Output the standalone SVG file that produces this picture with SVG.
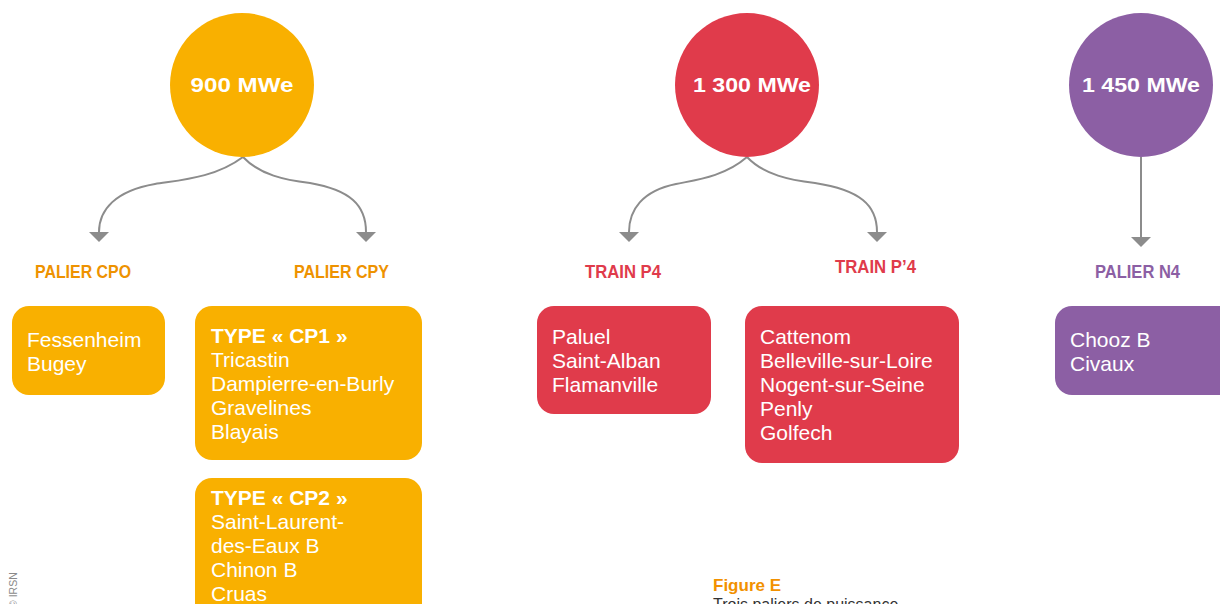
<svg xmlns="http://www.w3.org/2000/svg" width="1220" height="604" viewBox="0 0 1220 604">
  <style>
    .bg { fill: #ffffff; }
    .orange { fill: #F9B000; }
    .red { fill: #E03B4B; }
    .purple { fill: #8C5FA4; }
    .title { font-family: "Liberation Sans", Arial, sans-serif; font-weight: bold; font-size: 20px; fill: #ffffff; text-anchor: middle; }
    .label { font-family: "Liberation Sans", Arial, sans-serif; font-weight: bold; font-size: 19px; }
    .lab-o { fill: #EE9200; }
    .lab-r { fill: #E03B4B; }
    .lab-p { fill: #8C5FA4; }
    .item { font-family: "Liberation Sans", Arial, sans-serif; font-size: 21px; fill: #ffffff; }
    .item .b { font-weight: bold; }
    .conn { fill: none; stroke: #8C8C8C; stroke-width: 2; }
    .caption { font-family: "Liberation Sans", Arial, sans-serif; font-weight: bold; font-size: 17px; fill: #F29100; }
    .sub { font-family: "Liberation Sans", Arial, sans-serif; font-size: 16px; fill: #333333; }
    .credit { font-family: "Liberation Sans", Arial, sans-serif; font-size: 10.5px; fill: #8A8A8A; }
  </style>
  <defs>
    <marker id="arrow" viewBox="0 0 10 20" refX="0" refY="10" markerWidth="10" markerHeight="20" markerUnits="userSpaceOnUse" orient="auto">
      <path d="M0,0 L10,10 L0,20 z" fill="#8C8C8C"/>
    </marker>
  </defs>

  <rect class="bg" x="0" y="0" width="1220" height="604"/>

  <!-- connectors -->
  <g id="connectors">
    <path class="conn" marker-end="url(#arrow)" d="M243,157 C215,178 180,180 155,184 C115,191 99,210 99,232"/>
    <path class="conn" marker-end="url(#arrow)" d="M243,157 C260,175 285,180 310,183 C350,190 366,205 366,232"/>
    <path class="conn" marker-end="url(#arrow)" d="M747,157 C724,177 695,180 676,184 C642,191 629,210 629,232"/>
    <path class="conn" marker-end="url(#arrow)" d="M747,157 C764,175 790,180 815,183 C860,190 877,205 877,232"/>
    <path class="conn" marker-end="url(#arrow)" d="M1141,157 L1141,237"/>
  </g>

  <!-- power level circles -->
  <g id="n900">
    <circle class="orange" cx="242" cy="85" r="72"/>
    <text class="title" x="242" y="92" textLength="103" lengthAdjust="spacingAndGlyphs">900 MWe</text>
  </g>
  <g id="n1300">
    <circle class="red" cx="747" cy="85" r="72"/>
    <text class="title" x="752" y="92" textLength="118" lengthAdjust="spacingAndGlyphs">1 300 MWe</text>
  </g>
  <g id="n1450">
    <circle class="purple" cx="1141" cy="85" r="72"/>
    <text class="title" x="1141" y="92" textLength="118" lengthAdjust="spacingAndGlyphs">1 450 MWe</text>
  </g>

  <!-- series labels -->
  <g id="lbl-cpo"><text class="label lab-o" x="35" y="278" textLength="96" lengthAdjust="spacingAndGlyphs">PALIER CPO</text></g>
  <g id="lbl-cpy"><text class="label lab-o" x="294" y="278" textLength="95" lengthAdjust="spacingAndGlyphs">PALIER CPY</text></g>
  <g id="lbl-p4"><text class="label lab-r" x="585" y="278" textLength="76" lengthAdjust="spacingAndGlyphs">TRAIN P4</text></g>
  <g id="lbl-p4b"><text class="label lab-r" x="835" y="273" textLength="81" lengthAdjust="spacingAndGlyphs">TRAIN P’4</text></g>
  <g id="lbl-n4"><text class="label lab-p" x="1095" y="278" textLength="85" lengthAdjust="spacingAndGlyphs">PALIER N4</text></g>

  <!-- plant boxes -->
  <g id="box-cpo">
    <rect class="orange" x="12" y="306" width="153" height="89" rx="17"/>
    <text class="item"><tspan x="27" y="347">Fessenheim</tspan><tspan x="27" y="371">Bugey</tspan></text>
  </g>
  <g id="box-cp1">
    <rect class="orange" x="195" y="306" width="227" height="154" rx="17"/>
    <text class="item"><tspan class="b" x="211" y="343">TYPE « CP1 »</tspan><tspan x="211" y="367">Tricastin</tspan><tspan x="211" y="391">Dampierre-en-Burly</tspan><tspan x="211" y="415">Gravelines</tspan><tspan x="211" y="439">Blayais</tspan></text>
  </g>
  <g id="box-cp2">
    <rect class="orange" x="195" y="478" width="227" height="150" rx="17"/>
    <text class="item"><tspan class="b" x="211" y="505">TYPE « CP2 »</tspan><tspan x="211" y="529">Saint-Laurent-</tspan><tspan x="211" y="553">des-Eaux B</tspan><tspan x="211" y="577">Chinon B</tspan><tspan x="211" y="601">Cruas</tspan></text>
  </g>
  <g id="box-p4">
    <rect class="red" x="537" y="306" width="174" height="108" rx="17"/>
    <text class="item"><tspan x="552" y="344">Paluel</tspan><tspan x="552" y="368">Saint-Alban</tspan><tspan x="552" y="392">Flamanville</tspan></text>
  </g>
  <g id="box-p4b">
    <rect class="red" x="745" y="306" width="214" height="157" rx="17"/>
    <text class="item"><tspan x="760" y="344">Cattenom</tspan><tspan x="760" y="368">Belleville-sur-Loire</tspan><tspan x="760" y="392">Nogent-sur-Seine</tspan><tspan x="760" y="416">Penly</tspan><tspan x="760" y="440">Golfech</tspan></text>
  </g>
  <g id="box-n4">
    <rect class="purple" x="1055" y="306" width="190" height="89" rx="17"/>
    <text class="item"><tspan x="1070" y="347">Chooz B</tspan><tspan x="1070" y="371">Civaux</tspan></text>
  </g>

  <!-- caption -->
  <text class="caption" x="713" y="591">Figure E</text>
  <text class="sub" x="713" y="610">Trois paliers de puissance</text>
  <text class="credit" transform="translate(17,608) rotate(-90)">© IRSN</text>
</svg>
